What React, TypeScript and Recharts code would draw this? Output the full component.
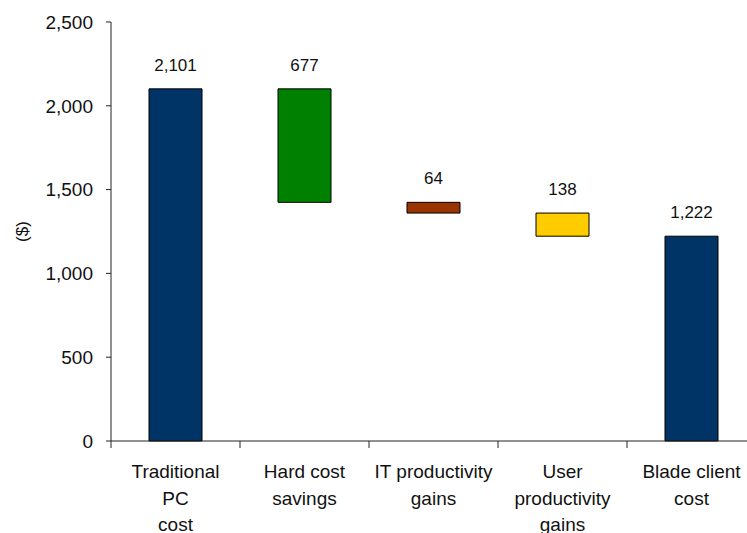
import { BarChart, Bar, XAxis, YAxis, Cell, LabelList, Label } from "recharts";

const categories = [
  "Traditional\nPC\ncost",
  "Hard cost\nsavings",
  "IT productivity\ngains",
  "User\nproductivity\ngains",
  "Blade client\ncost",
];
// step values of the waterfall ($)
const amounts = [2101, 677, 64, 138, 1222];
// true = bar starts at zero (totals), false = bar hangs from the running total
const isTotal = [true, false, false, false, true];
const colors = ["#003366", "#008000", "#993300", "#FFCC00", "#003366"];
const yTicks = [0, 500, 1000, 1500, 2000, 2500];

const CHART_W = 760;
const CHART_H = 533;
const Y_W = 111;
const MARGIN = { top: 22, right: 4, left: 0, bottom: 0 };
const BAND = (CHART_W - Y_W - MARGIN.left - MARGIN.right) / categories.length;
const FONT = '"Liberation Sans", Arial, sans-serif';

// running total gives the invisible base of each floating bar
let running = 0;
const data = categories.map((name, i) => {
  let base = 0;
  if (isTotal[i]) {
    running = amounts[i];
  } else {
    running -= amounts[i];
    base = running;
  }
  return { name, base, value: amounts[i] };
});

const fmt = (v: number) => v.toLocaleString("en-US");

// tick y arrives 8px below the axis line (tickSize 6 + tickMargin 2)
function CategoryTick(props: any) {
  const { x, y, payload } = props;
  const axisY = y - 8;
  const lines = String(payload.value).split("\n");
  return (
    <g>
      <line x1={x - BAND / 2} y1={axisY} x2={x - BAND / 2} y2={axisY + 7} stroke="#222" />
      <text x={x} y={axisY + 37} textAnchor="middle" fontSize={19} fill="#111" fontFamily={FONT}>
        {lines.map((l, i) => (
          <tspan key={i} x={x} dy={i === 0 ? 0 : 26.5}>
            {l}
          </tspan>
        ))}
      </text>
    </g>
  );
}

export default function App() {
  return (
    <div
      style={{
        position: "fixed",
        left: 0,
        top: 0,
        width: 747,
        height: 533,
        overflow: "hidden",
        background: "#fff",
      }}
    >
      <BarChart width={CHART_W} height={CHART_H} data={data} margin={MARGIN} barSize={53}>
        <XAxis
          dataKey="name"
          height={CHART_H - 441 - MARGIN.bottom}
          stroke="#222"
          tickLine={false}
          tick={<CategoryTick />}
          interval={0}
        />
        <YAxis
          width={Y_W}
          domain={[0, 2500]}
          ticks={yTicks}
          tickFormatter={fmt}
          stroke="#222"
          tickSize={5}
          tickMargin={13}
          tick={{ fontSize: 19, fill: "#111", fontFamily: FONT }}
        >
          <Label
            content={({ viewBox }: any) => {
              const cy = viewBox.y + viewBox.height / 2;
              return (
                <text
                  x={22}
                  y={cy}
                  transform={`rotate(-90 22 ${cy})`}
                  textAnchor="middle"
                  dominantBaseline="central"
                  fontSize={17}
                  fill="#111"
                  fontFamily={FONT}
                >
                  ($)
                </text>
              );
            }}
          />
        </YAxis>
        <Bar dataKey="base" stackId="w" fill="transparent" isAnimationActive={false} />
        <Bar dataKey="value" stackId="w" stroke="#000" strokeWidth={1} isAnimationActive={false}>
          {data.map((d, i) => (
            <Cell key={d.name} fill={colors[i]} />
          ))}
          <LabelList
            dataKey="value"
            position="top"
            offset={18}
            formatter={(v: any) => fmt(Number(v))}
            style={{ fontSize: 17, fill: "#111", fontFamily: FONT }}
          />
        </Bar>
      </BarChart>
    </div>
  );
}
